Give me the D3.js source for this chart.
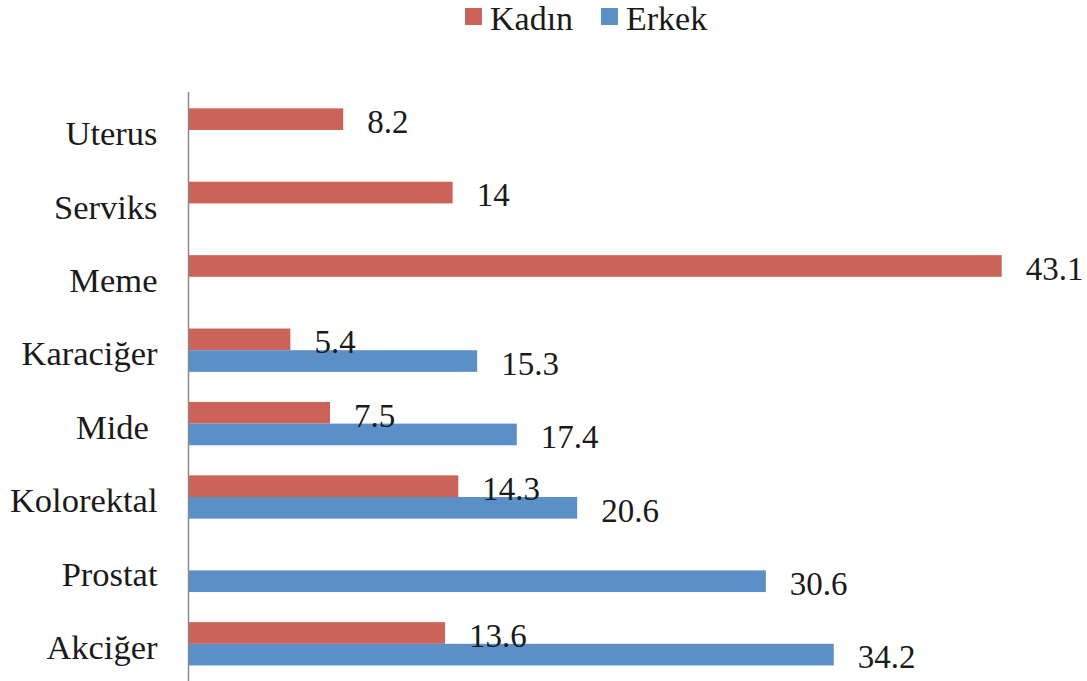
<!DOCTYPE html>
<html>
<head>
<meta charset="utf-8">
<script src="https://cdn.jsdelivr.net/npm/d3@7"></script>
<style>
  html, body { margin: 0; padding: 0; background: #fff; }
  svg { display: block; }
  text { font-family: "Liberation Serif", "Times New Roman", serif; fill: #1a1a1a; white-space: pre; }
</style>
</head>
<body>
<svg id="chart" width="1087" height="681"></svg>
<script>
const categories = ["Uterus", "Serviks", "Meme", "Karaciğer", "Mide ", "Kolorektal", "Prostat", "Akciğer"];
const series = ["Kadın", "Erkek"];
const kadin = [8.2, 14, 43.1, 5.4, 7.5, 14.3, null, 13.6];
const erkek = [null, null, null, 15.3, 17.4, 20.6, 30.6, 34.2];
const colors = ["#CB6359", "#5B90C7"];

const svg = d3.select("#chart");
const x = d3.scaleLinear().domain([0, 43.1]).range([188.5, 1001.7]);
const y = d3.scaleBand().domain(categories).range([93.3, 680.5]).paddingInner(0.41).paddingOuter(0.205);
const ySub = d3.scaleBand().domain(series).range([0, y.bandwidth()]);
const color = d3.scaleOrdinal().domain(series).range(colors);

const rows = [];
categories.forEach((c, i) => {
  [kadin, erkek].forEach((arr, j) => {
    if (arr[i] != null) rows.push({ cat: c, s: series[j], v: arr[i] });
  });
});

// bars
svg.append("g").selectAll("rect").data(rows).join("rect")
  .attr("x", x(0))
  .attr("y", d => y(d.cat) + ySub(d.s))
  .attr("width", d => x(d.v) - x(0))
  .attr("height", ySub.bandwidth())
  .attr("fill", d => color(d.s));

// axis
const axis = d3.axisLeft(y).tickSize(0).tickPadding(31);
const ag = svg.append("g").attr("transform", `translate(${x(0)},0)`).call(axis);
ag.select(".domain").remove();
ag.selectAll("text").attr("font-size", 34.5).attr("dy", "0.44em")
  .style("font-family", '"Liberation Serif", serif').attr("fill", "#1a1a1a");
svg.append("line").attr("x1", x(0)).attr("x2", x(0)).attr("y1", 92).attr("y2", 681)
  .attr("stroke", "#8a8a8a").attr("stroke-width", 1.5);

// value labels
svg.append("g").selectAll("text").data(rows).join("text")
  .attr("x", d => x(d.v) + 24)
  .attr("y", d => y(d.cat) + ySub(d.s) + ySub.bandwidth() + 3)
  .attr("font-size", 33)
  .text(d => String(d.v));

// legend
const lg = svg.append("g");
const legendX = [465, 601];
series.forEach((s, i) => {
  lg.append("rect").attr("x", legendX[i]).attr("y", 8).attr("width", 17).attr("height", 17).attr("fill", color(s));
  lg.append("text").attr("x", legendX[i] + 25).attr("y", 30).attr("font-size", 34).text(s);
});
</script>
</body>
</html>
